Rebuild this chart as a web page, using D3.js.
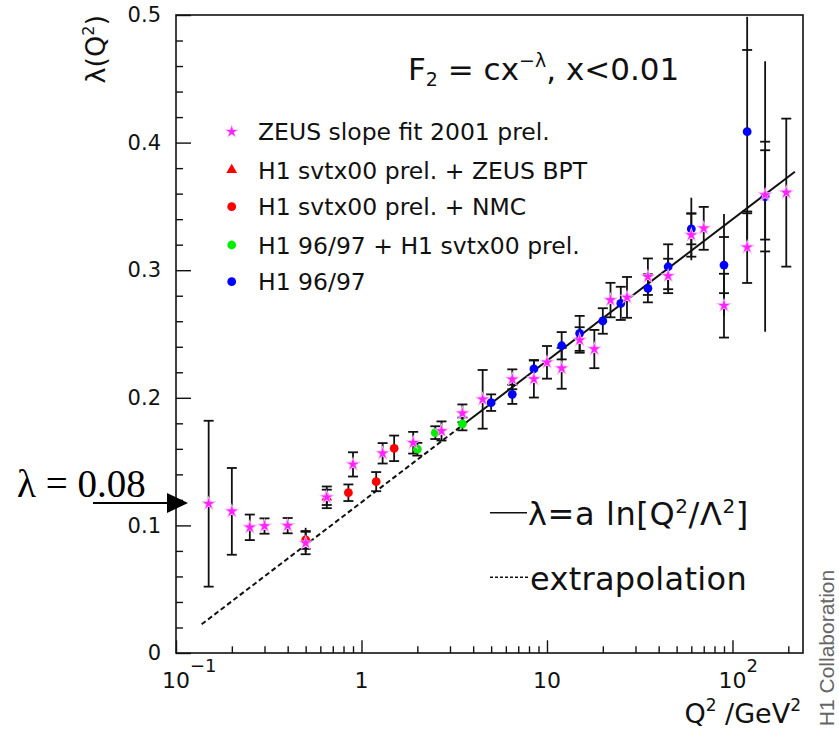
<!DOCTYPE html>
<html><head><meta charset="utf-8">
<script src="https://cdn.jsdelivr.net/npm/d3@7"></script>
<style>body{margin:0;background:#fff}svg{display:block}</style>
</head><body>
<svg id="c" width="839" height="732"></svg>
<script>
// ---- data ----
const zeusQ2     = [0.15,0.2,0.25,0.3,0.4,0.5,0.65,0.9,1.3,1.9,2.7,3.5,4.5,6.5,8.5,10,12,15,18,22,27,35,45,60,70,90,120,150,195];
const zeusLambda = [0.117,0.111,0.0985,0.0995,0.0998,0.0862,0.122,0.1478,0.1565,0.1648,0.174,0.1878,0.1988,0.2145,0.2147,0.2278,0.2231,0.2453,0.2382,0.2766,0.2787,0.2949,0.2955,0.3276,0.3328,0.2722,0.318,0.359,0.3608];
const zeusErr    = [0.065,0.034,0.010,0.006,0.006,0.0088,0.006,0.0095,0.008,0.0085,0.0075,0.007,0.023,0.0078,0.0145,0.0128,0.016,0.010,0.015,0.0135,0.016,0.0143,0.0135,0.017,0.0168,0.025,0.028,0.035,0.058];

const bptQ2     = [0.65];
const bptLambda = [0.122];
const bptErr    = [0.0085];

const nmcQ2     = [0.5,0.85,1.2,1.5];
const nmcLambda = [0.0886,0.1256,0.1343,0.1604];
const nmcErr    = [0.007,0.0065,0.0075,0.010];
const nmcTot    = [0.0095,null,null,null];

const h1svQ2     = [2.0,2.5,3.5];
const h1svLambda = [0.1597,0.1727,0.1795];
const h1svErr    = [0.005,0.005,0.005];

const h1Q2     = [5,6.5,8.5,12,15,20,25,35,45,60,90,120,150];
const h1Lambda = [0.1962,0.2027,0.2226,0.2408,0.2505,0.2602,0.274,0.2858,0.3027,0.3323,0.304,0.4086,0.3577];
const h1Err    = [0.0065,0.0075,0.007,0.0107,0.0137,0.010,0.013,0.011,0.0176,0.012,0.022,0.064,0.043];
const h1Tot    = [null,null,null,null,null,null,null,null,null,0.0245,0.040,0.090,0.106];

// fit lambda = a ln(Q^2/Lambda^2): extrapolation (dashed) and fit range (solid)
const extrapQ2     = [0.1375,3.5];
const extrapLambda = [0.0225,0.1785];
const fitQ2        = [3.5,217];
const fitLambda    = [0.1785,0.3772];

const yMajorTicks = [0,0.1,0.2,0.3,0.4,0.5];
const yTickLabels = ["0","0.1","0.2","0.3","0.4","0.5"];
const xMajorTicks = [0.1,1,10,100];
const xTickBase   = ["10","1","10","10"];
const xTickSup    = ["\u22121","","","2"];

const legendNames = ["ZEUS slope fit 2001 prel.","H1 svtx00 prel. + ZEUS BPT","H1 svtx00 prel. + NMC","H1 96/97 + H1 svtx00 prel.","H1 96/97"];

// ---- drawing ----
const svg = d3.select("#c");
const M = {left:176,right:803,top:15,bottom:653};
const x = d3.scaleLog().domain([0.1,240]).range([M.left,M.right]);
const y = d3.scaleLinear().domain([0,0.5]).range([M.bottom,M.top]);
const FONT = "'DejaVu Sans', 'Liberation Sans', Arial, sans-serif";
const INK = "#111";

svg.append("rect").attr("width",839).attr("height",732).attr("fill","#fff");

// axes ticks (inward)
const xMinor = x.ticks().filter(v => xMajorTicks.indexOf(v) < 0);
svg.append("g").attr("transform",`translate(0,${M.bottom})`)
  .call(d3.axisBottom(x).tickValues(xMinor).tickSize(-6.7).tickFormat(""))
  .call(g=>{g.select(".domain").remove(); g.selectAll("line").attr("stroke",INK).attr("stroke-width",1.4);});
svg.append("g").attr("transform",`translate(0,${M.bottom})`)
  .call(d3.axisBottom(x).tickValues(xMajorTicks).tickSize(-12.7).tickFormat(""))
  .call(g=>{g.select(".domain").remove(); g.selectAll("line").attr("stroke",INK).attr("stroke-width",1.4);});

const yMinor = d3.range(0,0.5001,0.02).filter(v => Math.abs(v*10-Math.round(v*10))>1e-6);
svg.append("g").attr("transform",`translate(${M.left},0)`)
  .call(d3.axisLeft(y).tickValues(yMinor).tickSize(-7).tickFormat(""))
  .call(g=>{g.select(".domain").remove(); g.selectAll("line").attr("stroke",INK).attr("stroke-width",1.4);});
svg.append("g").attr("transform",`translate(${M.left},0)`)
  .call(d3.axisLeft(y).tickValues(yMajorTicks).tickSize(-15).tickPadding(15)
        .tickFormat((d,i)=>yTickLabels[i]))
  .call(g=>{g.select(".domain").remove();
            g.selectAll("line").attr("stroke",INK).attr("stroke-width",1.4);
            g.selectAll("text").attr("font-family",FONT).attr("font-size",21).attr("fill",INK);});

// frame
svg.append("rect").attr("x",M.left).attr("y",M.top)
  .attr("width",M.right-M.left).attr("height",M.bottom-M.top)
  .attr("fill","none").attr("stroke",INK).attr("stroke-width",1.6);

// x tick labels
xMajorTicks.forEach((v,i)=>{
  const t = svg.append("text").attr("x",x(v)).attr("y",688)
    .attr("text-anchor","middle").attr("font-family",FONT).attr("font-size",22).attr("fill",INK)
    .text(xTickBase[i]);
  if (xTickSup[i]) {
    const w = t.node().getComputedTextLength();
    svg.append("text").attr("x",x(v)+w/2).attr("y",672)
      .attr("font-family",FONT).attr("font-size",18).attr("fill",INK).text(xTickSup[i]);
  }
});

// axis titles
const xt = svg.append("text").attr("x",801).attr("y",723).attr("text-anchor","end")
  .attr("font-family",FONT).attr("font-size",27).attr("fill",INK);
xt.append("tspan").text("Q");
xt.append("tspan").attr("dy",-12).attr("font-size",17).text("2");
xt.append("tspan").attr("dy",12).text(" /GeV");
xt.append("tspan").attr("dy",-12).attr("font-size",17).text("2");

const yt = svg.append("text").attr("transform","translate(105,15) rotate(-90)")
  .attr("text-anchor","end").attr("font-family",FONT).attr("font-size",27).attr("fill",INK);
yt.append("tspan").text("\u03bb(Q");
yt.append("tspan").attr("dy",-11).attr("font-size",16).text("2");
yt.append("tspan").attr("dy",11).text(")");

// fit lines
const line = d3.line().x(d=>x(d[0])).y(d=>y(d[1]));
svg.append("path").datum(extrapQ2.map((q,i)=>[q,extrapLambda[i]]))
  .attr("d",line).attr("fill","none").attr("stroke",INK).attr("stroke-width",2).attr("stroke-dasharray","5,3");
svg.append("path").datum(fitQ2.map((q,i)=>[q,fitLambda[i]]))
  .attr("d",line).attr("fill","none").attr("stroke",INK).attr("stroke-width",2);

// error bars
function errBars(qs, ls, es, ts) {
  const g = svg.append("g").attr("stroke",INK).attr("stroke-width",1.8);
  qs.forEach((q,i)=>{
    const px = x(q), l = ls[i], e = es[i];
    const t = ts && ts[i] ? ts[i] : null;
    const lo = t ? l - t : l - e, hi = t ? l + t : l + e;
    g.append("line").attr("x1",px).attr("x2",px).attr("y1",y(Math.max(lo,0))).attr("y2",y(Math.min(hi,0.5)));
    [l-e, l+e].forEach(v=>{
      g.append("line").attr("x1",px-5).attr("x2",px+5).attr("y1",y(v)).attr("y2",y(v));
    });
  });
}
errBars(zeusQ2, zeusLambda, zeusErr);
errBars(bptQ2, bptLambda, bptErr);
errBars(nmcQ2, nmcLambda, nmcErr, nmcTot);
errBars(h1svQ2, h1svLambda, h1svErr);
errBars(h1Q2, h1Lambda, h1Err, h1Tot);

// markers
const star = d3.symbol().type(d3.symbolStar).size(36);
const tri  = d3.symbol().type(d3.symbolTriangle).size(50);
function circles(qs, ls, col) {
  svg.append("g").selectAll("circle").data(qs).join("circle")
    .attr("cx",(d)=>x(d)).attr("cy",(d,i)=>y(ls[i])).attr("r",4.4).attr("fill",col);
}
svg.append("g").selectAll("path").data(bptQ2).join("path")
  .attr("d",tri).attr("transform",(d,i)=>`translate(${x(d)},${y(bptLambda[i])})`).attr("fill","#ff0000");
circles(nmcQ2, nmcLambda, "#ff0000");
circles(h1svQ2, h1svLambda, "#00ee00");
circles(h1Q2, h1Lambda, "#0000ff");
svg.append("g").selectAll("path").data(zeusQ2).join("path")
  .attr("d",star).attr("transform",(d,i)=>`translate(${x(d)},${y(zeusLambda[i])})`)
  .attr("fill","#ff22ff").attr("stroke","#ffb0ff").attr("stroke-width",1.6).attr("paint-order","stroke");

// legend
const legY = [131.7,170,206.7,245,281.7];
const legCols = ["#ff22ff","#ff0000","#ff0000","#00ee00","#0000ff"];
legendNames.forEach((n,i)=>{
  const cx = 231.7, cy = legY[i];
  if (i===0) svg.append("path").attr("d",d3.symbol().type(d3.symbolStar).size(34)())
      .attr("transform",`translate(${cx},${cy})`).attr("fill",legCols[i])
      .attr("stroke","#ffb0ff").attr("stroke-width",1.2).attr("paint-order","stroke");
  else if (i===1) svg.append("path").attr("d",d3.symbol().type(d3.symbolTriangle).size(50)())
      .attr("transform",`translate(${cx},${cy})`).attr("fill",legCols[i]);
  else svg.append("circle").attr("cx",cx).attr("cy",cy).attr("r",4.4).attr("fill",legCols[i]);
  svg.append("text").attr("x",258).attr("y",cy+8.5).attr("font-family",FONT).attr("font-size",23.5)
    .attr("fill",INK).text(n);
});

// formula title
const ft = svg.append("text").attr("x",408).attr("y",80).attr("font-family",FONT).attr("font-size",31).attr("fill",INK);
ft.append("tspan").text("F");
ft.append("tspan").attr("dy",6).attr("font-size",19).text("2");
ft.append("tspan").attr("dy",-6).text(" = cx");
ft.append("tspan").attr("dy",-13).attr("font-size",19).text("\u2212\u03bb");
ft.append("tspan").attr("dy",13).text(",  x<0.01");

// fit legend
svg.append("line").attr("x1",490).attr("x2",527).attr("y1",512.7).attr("y2",512.7).attr("stroke",INK).attr("stroke-width",1.5);
svg.append("line").attr("x1",490).attr("x2",528).attr("y1",577.3).attr("y2",577.3).attr("stroke",INK).attr("stroke-width",1.5).attr("stroke-dasharray","3,2");
const fl = svg.append("text").attr("x",528).attr("y",525).attr("font-family",FONT).attr("font-size",32).attr("fill",INK)
  .attr("letter-spacing",0.6);
fl.append("tspan").text("\u03bb=a ln[Q");
fl.append("tspan").attr("dy",-12).attr("font-size",20).text("2");
fl.append("tspan").attr("dy",12).text("/\u039b");
fl.append("tspan").attr("dy",-12).attr("font-size",20).text("2");
fl.append("tspan").attr("dy",12).text("]");
svg.append("text").attr("x",530).attr("y",590).attr("font-family",FONT).attr("font-size",32).attr("fill",INK)
  .attr("letter-spacing",0.3).text("extrapolation");

// H1 Collaboration
svg.append("text").attr("transform","translate(834,648) rotate(-90)").attr("text-anchor","middle")
  .attr("font-family","'Liberation Sans', Arial, sans-serif").attr("font-size",21).attr("fill","#666").text("H1 Collaboration");

// lambda = 0.08 annotation
svg.append("text").attr("x",17).attr("y",497).attr("font-family","'Liberation Serif','Times New Roman',serif")
  .attr("font-size",39).attr("fill","#000").text("\u03bb = 0.08");
svg.append("line").attr("x1",93).attr("x2",170).attr("y1",503).attr("y2",503).attr("stroke","#000").attr("stroke-width",2);
svg.append("path").attr("d","M167,493 L188,503 L167,513 Z").attr("fill","#000");
</script>
</body></html>
